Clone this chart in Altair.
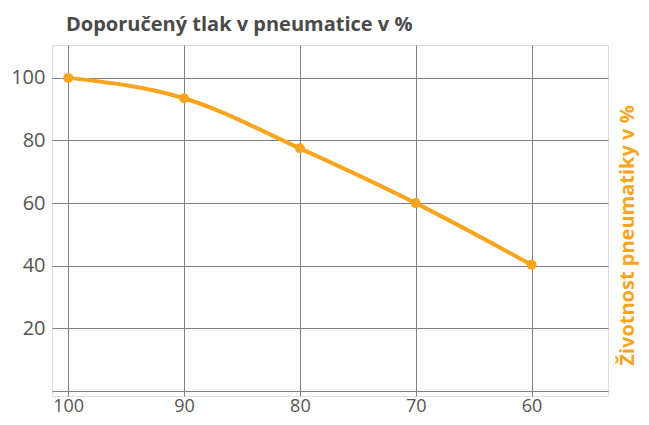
import altair as alt
import pandas as pd

pressure = [100, 90, 80, 70, 60]
life = [100, 93.5, 77.5, 60, 40.3]
x_ticks = [100, 90, 80, 70, 60]
y_ticks = [0, 20, 40, 60, 80, 100]

df = pd.DataFrame({"tlak": pressure, "zivotnost": life})

ORANGE = "#F8A51D"
GRID = "#808080"
TEXT = "#555555"
FONT = "Open Sans"

x = alt.X(
    "tlak:Q",
    scale=alt.Scale(domain=[101.4, 53.4], nice=False, zero=False),
    axis=alt.Axis(
        values=x_ticks, grid=True, gridColor=GRID, gridWidth=1, domain=False,
        ticks=False, labelPadding=1, labelFontSize=18, labelColor=TEXT,
        labelFont=FONT, title=None, labelFlush=False,
    ),
)
y = alt.Y(
    "zivotnost:Q",
    scale=alt.Scale(domain=[-1.6, 110.5], nice=False, zero=False),
    axis=alt.Axis(
        values=y_ticks, grid=True, gridColor=GRID, gridWidth=1, domain=False,
        ticks=False, labelPadding=7, labelFontSize=20, labelColor=TEXT,
        labelFont=FONT, labelExpr="datum.value == 0 ? '' : datum.label",
        title="Životnost pneumatiky v %", titleColor=ORANGE, titleFont=FONT,
        titleFontSize=20, titleFontWeight="bold", titleAngle=270,
        titleX=585, titleY=190, titleAlign="center", titleBaseline="bottom",
        labelFlush=False,
    ),
)

base = alt.Chart(df).encode(x=x, y=y)
line = base.mark_line(color=ORANGE, strokeWidth=4, interpolate="monotone")
pts = base.mark_point(filled=True, color=ORANGE, size=100, opacity=1)

chart = (
    (line + pts)
    .properties(
        width=556,
        height=351,
        autosize=alt.AutoSizeParams(type="none"),
        padding={"left": 44, "top": 37, "right": 33, "bottom": 21},
        title=alt.TitleParams(
            "Doporučený tlak v pneumatice v %", anchor="start", dx=14,
            fontSize=20, fontWeight="bold", color="#4A4A4A", font=FONT,
            offset=10, frame="group",
        ),
    )
    .configure_view(stroke=None)
    .configure(background="white")
)

chart.save("out.html", embed_options={"renderer": "svg", "actions": False})
